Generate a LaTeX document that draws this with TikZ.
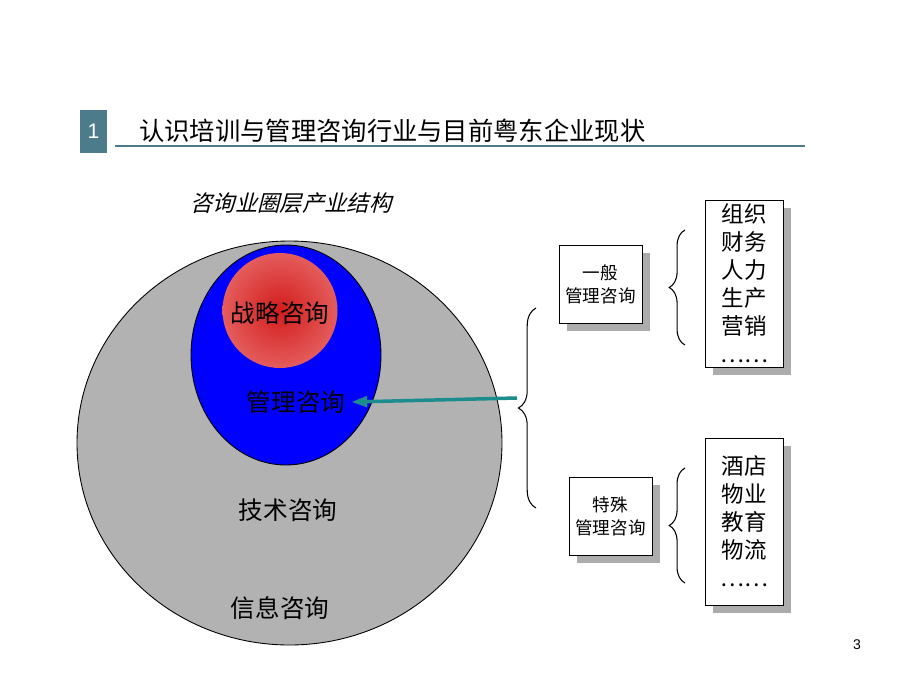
\documentclass[tikz,border=0pt]{standalone}
\usepackage{fontspec}
\setmainfont{Liberation Sans}
\newfontfamily\cjk{Noto Sans CJK SC}
\newfontfamily\cjkslant[FakeSlant=0.25]{Noto Sans CJK SC}
\usepackage{tikz}
\usetikzlibrary{calc}
\usetikzlibrary{arrows.meta}
\usetikzlibrary{positioning}
\usetikzlibrary{shadows}
\usetikzlibrary{decorations.pathreplacing}
\definecolor{barteal}{RGB}{76,124,140}
\definecolor{arrowteal}{RGB}{28,140,140}
\definecolor{ringgray}{RGB}{178,178,178}
\definecolor{coreredin}{RGB}{212,28,28}
\definecolor{coreredout}{RGB}{228,92,92}
\tikzset{ring/.style={draw=black,line width=0.5pt}}
\tikzset{layer/.style={font=\cjk\fontsize{14}{16}\selectfont}}
\tikzset{kind/.style={rectangle,draw=black,fill=white,align=center,inner sep=1pt,
  minimum width=1.66cm,minimum height=1.56cm,font=\cjk\fontsize{10}{13}\selectfont,
  drop shadow={shadow xshift=4.5pt,shadow yshift=-4.5pt,fill=gray!65,opacity=1}}}
\tikzset{itemlist/.style={kind,minimum width=1.56cm,minimum height=3.34cm,
  font=\cjk\fontsize{12.8}{15.9}\selectfont}}
\tikzset{curly/.style={decorate,decoration={brace,amplitude=#1},line width=0.6pt}}

\begin{document}
\begin{tikzpicture}[x=0.02cm,y=-0.02cm]
\useasboundingbox (0,0) rectangle (920,690);

% heading
\node[fill=barteal,text=white,minimum width=0.54cm,minimum height=0.86cm,inner sep=0pt,
  font=\fontsize{12}{14}\selectfont] (num) at (93.5,131.5) {1};
\node[anchor=west,inner sep=0pt,font=\cjk\fontsize{14.4}{16}\selectfont] (title) at (139,131) {认识培训与管理咨询行业与目前粤东企业现状};
\draw[barteal,line width=1.2pt] (115,146) -- (805,146);

\node[font=\cjkslant\fontsize{12.7}{14}\selectfont] (sub) at (291,203) {咨询业圈层产业结构};

% layers
\draw[ring,fill=ringgray] (289.5,443) ellipse (212.5 and 202);
\draw[ring,fill=blue] (286,355) ellipse (95 and 110);
\shade[inner color=coreredin,outer color=coreredout] (280,310.5) circle (57.5);

\node[layer] (strategy) at (280,313) {战略咨询};
\node[layer] (mgmt) at (296,402) {管理咨询};
\node[layer] (tech) at (288,510) {技术咨询};
\node[layer] (info) at (280,608) {信息咨询};

% branches
\node[kind] (general) at (600.5,284) {一般\\管理咨询};
\node[kind] (special) at (610.5,516.5) {特殊\\管理咨询};
\node[itemlist] (generalitems) at (744,283.5) {组织\\财务\\人力\\生产\\营销\\……};
\node[itemlist] (specialitems) at (744,521.5) {酒店\\物业\\教育\\物流\\……};

\draw[curly=10pt] (536,508) -- (536,308);
\draw[curly=9pt] (685,345) -- (685,230);
\draw[curly=9pt] (685,583) -- (685,468);

\coordinate (bracetip) at (517,398);
\draw[arrowteal,line width=2pt,-{Triangle[length=9pt,width=6pt]}] (bracetip) -- (mgmt.east);

\node[font=\fontsize{8}{10}\selectfont] (page) at (857,645) {3};
\end{tikzpicture}
\end{document}
